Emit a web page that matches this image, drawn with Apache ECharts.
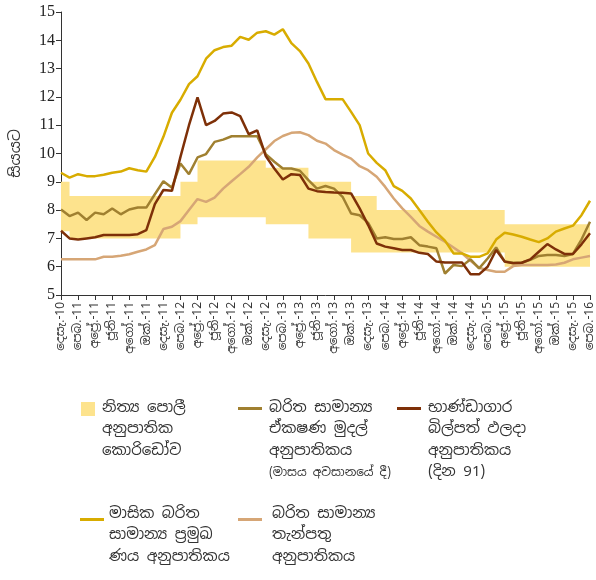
<!DOCTYPE html>
<html>
<head>
<meta charset="utf-8">
<script src="https://cdn.jsdelivr.net/npm/echarts@6/dist/echarts.min.js"></script>
<style>
  html, body { margin: 0; padding: 0; background: #fff; }
  #chart { width: 596px; height: 580px; }
</style>
</head>
<body>
<div id="chart"></div>
<script>
// මාස (දෙසැ.-10 සිට පෙබ.-16 දක්වා)
const categories = [
  'දෙසැ.-10',
  'ජන.-11', 'පෙබ.-11', 'මාර්.-11', 'අප්‍රේ.-11', 'මැයි-11', 'ජූනි-11', 'ජූලි-11', 'අගෝ.-11', 'සැප්.-11', 'ඔක්.-11', 'නොවැ.-11', 'දෙසැ.-11',
  'ජන.-12', 'පෙබ.-12', 'මාර්.-12', 'අප්‍රේ.-12', 'මැයි-12', 'ජූනි-12', 'ජූලි-12', 'අගෝ.-12', 'සැප්.-12', 'ඔක්.-12', 'නොවැ.-12', 'දෙසැ.-12',
  'ජන.-13', 'පෙබ.-13', 'මාර්.-13', 'අප්‍රේ.-13', 'මැයි-13', 'ජූනි-13', 'ජූලි-13', 'අගෝ.-13', 'සැප්.-13', 'ඔක්.-13', 'නොවැ.-13', 'දෙසැ.-13',
  'ජන.-14', 'පෙබ.-14', 'මාර්.-14', 'අප්‍රේ.-14', 'මැයි-14', 'ජූනි-14', 'ජූලි-14', 'අගෝ.-14', 'සැප්.-14', 'ඔක්.-14', 'නොවැ.-14', 'දෙසැ.-14',
  'ජන.-15', 'පෙබ.-15', 'මාර්.-15', 'අප්‍රේ.-15', 'මැයි-15', 'ජූනි-15', 'ජූලි-15', 'අගෝ.-15', 'සැප්.-15', 'ඔක්.-15', 'නොවැ.-15', 'දෙසැ.-15',
  'ජන.-16', 'පෙබ.-16'
]

// පොලී අනුපාතික කොරිඩෝව - පහළ සහ ඉහළ සීමා
const corridorLower = [
  7.25,
  7.0, 7.0, 7.0, 7.0, 7.0, 7.0, 7.0, 7.0, 7.0, 7.0, 7.0, 7.0, 7.0,
  7.5, 7.5,
  7.75, 7.75, 7.75, 7.75, 7.75, 7.75, 7.75, 7.75,
  7.5, 7.5, 7.5, 7.5, 7.5,
  7.0, 7.0, 7.0, 7.0, 7.0,
  6.5, 6.5, 6.5,
  6.5, 6.5, 6.5, 6.5, 6.5, 6.5, 6.5, 6.5, 6.5, 6.5, 6.5, 6.5, 6.5, 6.5, 6.5,
  6.0, 6.0, 6.0, 6.0, 6.0, 6.0, 6.0, 6.0, 6.0, 6.0, 6.0
]
const corridorUpper = [
  9.0,
  8.5, 8.5, 8.5, 8.5, 8.5, 8.5, 8.5, 8.5, 8.5, 8.5, 8.5, 8.5, 8.5,
  9.0, 9.0,
  9.75, 9.75, 9.75, 9.75, 9.75, 9.75, 9.75, 9.75,
  9.5, 9.5, 9.5, 9.5, 9.5,
  9.0, 9.0, 9.0, 9.0, 9.0,
  8.5, 8.5, 8.5,
  8.0, 8.0, 8.0, 8.0, 8.0, 8.0, 8.0, 8.0, 8.0, 8.0, 8.0, 8.0, 8.0, 8.0, 8.0,
  7.5, 7.5, 7.5, 7.5, 7.5, 7.5, 7.5, 7.5, 7.5, 7.5, 7.5
]

// මාසික බරිත සාමාන්‍ය ප්‍රමුඛ ණය අනුපාතිකය
const awpr = [
  9.32, 9.15, 9.27, 9.2, 9.2, 9.25, 9.32, 9.36, 9.48, 9.41, 9.36, 9.88, 10.59,
  11.44, 11.9, 12.45, 12.73, 13.35, 13.65, 13.76, 13.81, 14.12, 14.02, 14.27, 14.32,
  14.2, 14.39, 13.9, 13.62, 13.18, 12.53, 11.92, 11.92, 11.92, 11.47, 11.0, 10.0,
  9.67, 9.41, 8.85, 8.68, 8.41, 8.0, 7.59, 7.21, 6.92, 6.47, 6.47, 6.35,
  6.35, 6.47, 6.96, 7.2, 7.14, 7.06, 6.96, 6.87, 7.0, 7.24, 7.35, 7.45,
  7.82, 8.33
]

// බරිත සාමාන්‍ය ඒකෂණ මුදල් අනුපාතිකය
const awcmr = [
  8.02, 7.79, 7.91, 7.65, 7.91, 7.85, 8.06, 7.85, 8.02, 8.09, 8.09, 8.56, 9.02,
  8.79, 9.65, 9.27, 9.86, 9.98, 10.41, 10.49, 10.61, 10.61, 10.61, 10.61, 9.98,
  9.71, 9.47, 9.47, 9.39, 9.06, 8.76, 8.85, 8.76, 8.47, 7.88, 7.82, 7.55,
  7.0, 7.04, 6.98, 6.98, 7.04, 6.76, 6.71, 6.65, 5.76, 6.06, 6.02, 6.26,
  5.94, 6.29, 6.68, 6.18, 6.14, 6.14, 6.24, 6.38, 6.41, 6.41, 6.38, 6.45,
  6.96, 7.59
]

// භාණ්ඩාගාර බිල්පත් ඵලදා අනුපාතිකය (දින 91)
const tbill91 = [
  7.27, 7.0, 6.96, 7.0, 7.04, 7.12, 7.12, 7.12, 7.12, 7.15, 7.29, 8.21, 8.71,
  8.68, 9.88, 11.0, 11.98, 11.0, 11.15, 11.41, 11.45, 11.32, 10.68, 10.82, 9.91,
  9.47, 9.08, 9.27, 9.24, 8.76, 8.67, 8.64, 8.62, 8.61, 8.59, 8.06, 7.47,
  6.82, 6.71, 6.65, 6.59, 6.59, 6.49, 6.45, 6.18, 6.15, 6.15, 6.15, 5.73,
  5.73, 6.0, 6.59, 6.18, 6.12, 6.14, 6.26, 6.53, 6.8, 6.61, 6.45, 6.45,
  6.79, 7.18
]

// බරිත සාමාන්‍ය තැන්පතු අනුපාතිකය
const awdr = [
  6.26, 6.26, 6.26, 6.26, 6.26, 6.35, 6.35, 6.39, 6.44, 6.53, 6.61, 6.76, 7.33,
  7.41, 7.61, 8.0, 8.39, 8.29, 8.44, 8.76, 9.02, 9.27, 9.53, 9.86, 10.15,
  10.44, 10.62, 10.73, 10.75, 10.65, 10.45, 10.35, 10.12, 9.96, 9.82, 9.55, 9.41,
  9.18, 8.82, 8.41, 8.06, 7.76, 7.44, 7.24, 7.06, 6.88, 6.68, 6.47, 6.21,
  5.96, 5.88, 5.82, 5.82, 6.02, 6.06, 6.06, 6.06, 6.06, 6.08, 6.14, 6.26,
  6.32, 6.38
]

const COLORS = {
  band: '#FDE38D',
  awpr: '#D8AC00',
  awcmr: '#A08030',
  tbill: '#7E3008',
  awdr: '#D6A676'
}

const SI_FONT = '"Noto Sans Sinhala", "Iskoola Pota", "Noto Sans", sans-serif'
const NUM_FONT = '"Liberation Serif", "DejaVu Serif", serif'

const chart = echarts.init(document.getElementById('chart'), null, { renderer: 'canvas' })

function lineSeries(name, data, color) {
  return {
    name: name,
    type: 'line',
    data: data,
    symbol: 'none',
    lineStyle: { color: color, width: 2.5 },
    itemStyle: { color: color },
    z: 3
  }
}

// ලෙජන්ඩ් අයිතම (graphic)
function legendText(x, y, lines, small) {
  const els = lines.map((t, i) => ({
    type: 'text',
    left: x,
    top: y + i * 21.5,
    style: { text: t, font: '15px ' + SI_FONT, fill: '#333' }
  }))
  if (small) {
    els.push({
      type: 'text',
      left: x,
      top: y + lines.length * 21.5 + 2,
      style: { text: small, font: '12px ' + SI_FONT, fill: '#333' }
    })
  }
  return els
}

const graphics = [].concat(
  [{ type: 'rect', left: 81, top: 402, shape: { width: 14, height: 14 }, style: { fill: COLORS.band } }],
  legendText(102, 400, ['නිත්‍ය පොලී', 'අනුපාතික', 'කොරිඩෝව']),
  [{ type: 'rect', left: 238, top: 407, shape: { width: 24, height: 3 }, style: { fill: COLORS.awcmr } }],
  legendText(269, 400, ['බරිත සාමාන්‍ය', 'ඒකෂණ මුදල්', 'අනුපාතිකය'], '(මාසය අවසානයේ දී)'),
  [{ type: 'rect', left: 397, top: 407, shape: { width: 24, height: 3 }, style: { fill: COLORS.tbill } }],
  legendText(428, 400, ['භාණ්ඩාගාර', 'බිල්පත් ඵලදා', 'අනුපාතිකය', '(දින 91)']),
  [{ type: 'rect', left: 80, top: 518, shape: { width: 24, height: 3 }, style: { fill: COLORS.awpr } }],
  legendText(109, 506, ['මාසික බරිත', 'සාමාන්‍ය ප්‍රමුඛ', 'ණය අනුපාතිකය']),
  [{ type: 'rect', left: 238, top: 518, shape: { width: 24, height: 3 }, style: { fill: COLORS.awdr } }],
  legendText(272, 506, ['බරිත සාමාන්‍ය', 'තැන්පතු', 'අනුපාතිකය'])
)

const option = {
  animation: false,
  backgroundColor: '#fff',
  grid: { left: 57, right: 3, top: 12, bottom: 285, containLabel: false },
  xAxis: {
    type: 'category',
    data: categories,
    boundaryGap: false,
    axisLine: { lineStyle: { color: '#333', width: 1 } },
    axisTick: { interval: 1, length: 5, lineStyle: { color: '#333' } },
    axisLabel: {
      interval: 1,
      rotate: 90,
      margin: 7,
      color: '#333',
      fontSize: 12,
      fontFamily: SI_FONT
    },
    splitLine: { show: false }
  },
  yAxis: {
    type: 'value',
    min: 5,
    max: 15,
    interval: 1,
    name: 'සියයට',
    nameLocation: 'middle',
    nameGap: 38,
    nameTextStyle: { color: '#333', fontSize: 15, fontFamily: SI_FONT },
    axisLine: { show: true, lineStyle: { color: '#333', width: 1 } },
    axisTick: { show: true, length: 5, lineStyle: { color: '#333' } },
    axisLabel: { color: '#222', fontSize: 16, fontFamily: NUM_FONT, margin: 6 },
    splitLine: { show: false }
  },
  legend: { show: false },
  graphic: graphics,
  series: [
    {
      name: 'corridor-base',
      type: 'line',
      data: corridorLower,
      stack: 'corridor',
      step: 'end',
      symbol: 'none',
      lineStyle: { opacity: 0 },
      silent: true,
      z: 1
    },
    {
      name: 'නිත්‍ය පොලී අනුපාතික කොරිඩෝව',
      type: 'line',
      data: corridorUpper.map((v, i) => +(v - corridorLower[i]).toFixed(2)),
      stack: 'corridor',
      step: 'end',
      symbol: 'none',
      lineStyle: { opacity: 0 },
      areaStyle: { color: COLORS.band, opacity: 1 },
      itemStyle: { color: COLORS.band },
      silent: true,
      z: 1
    },
    lineSeries('බරිත සාමාන්‍ය තැන්පතු අනුපාතිකය', awdr, COLORS.awdr),
    lineSeries('බරිත සාමාන්‍ය ඒකෂණ මුදල් අනුපාතිකය', awcmr, COLORS.awcmr),
    lineSeries('භාණ්ඩාගාර බිල්පත් ඵලදා අනුපාතිකය (දින 91)', tbill91, COLORS.tbill),
    lineSeries('මාසික බරිත සාමාන්‍ය ප්‍රමුඛ ණය අනුපාතිකය', awpr, COLORS.awpr)
  ]
}

chart.setOption(option)
</script>
</body>
</html>
